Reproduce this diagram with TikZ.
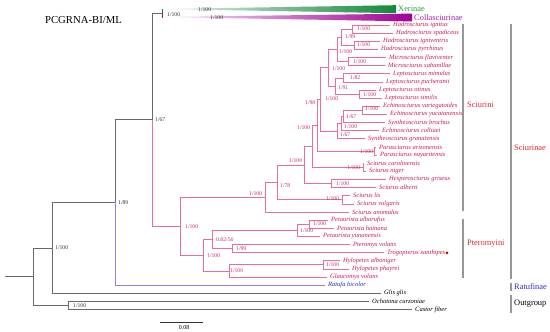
\documentclass[tikz,border=0pt]{standalone}
\usepackage{fontspec}
\setmainfont{Liberation Serif}
\definecolor{pkline}{RGB}{230,112,150}
\definecolor{tipred}{RGB}{205,25,80}
\definecolor{nlred}{RGB}{200,45,85}
\definecolor{cladered}{RGB}{225,35,45}
\definecolor{ratline}{RGB}{155,125,225}
\definecolor{ratblue}{RGB}{40,40,205}
\definecolor{xgreen}{RGB}{20,135,60}
\definecolor{xlab}{RGB}{30,165,60}
\definecolor{cpurple}{RGB}{160,0,150}
\definecolor{clab}{RGB}{170,30,170}
\definecolor{bbgray}{RGB}{105,105,105}
\definecolor{bargray}{RGB}{150,150,150}
\newcommand\mytip[5][]{\coordinate (#2) at (#3,{25+8.13*#4}); \node[tiplab,#1] (#2l) at ([xshift=3pt]#2) {#5};}
\begin{document}
\begin{tikzpicture}[x=1pt,y=-1pt,
  tiplab/.style={anchor=west,inner sep=0pt,font=\fontsize{6.5}{7}\selectfont\itshape,text=tipred},
  nl/.style={anchor=west,inner sep=0pt,font=\fontsize{5.7}{6}\selectfont,text=nlred},
  nlg/.style={anchor=west,inner sep=0pt,font=\fontsize{5.7}{6}\selectfont,text=black!80},
  cladelab/.style={anchor=west,inner sep=0pt,font=\fontsize{8.4}{9}\selectfont},
  pk/.style={draw=pkline,line width=0.7pt},
  gb/.style={draw=bbgray,line width=0.7pt},
  bar/.style={draw=bargray,line width=1.2pt}]
\useasboundingbox (0,0) rectangle (550,332);

% title
\node[inner sep=0pt,font=\fontsize{10.7}{12}\selectfont] (title) at (83.5,20) {PCGRNA-BI/ML};

% tips
\mytip{t0}{390}{0}{Hadrosciurus ignitus}
\mytip{t1}{393}{1}{Hadrosciurus spadiceus}
\mytip{t2}{380}{2}{Hadrosciurus igniventris}
\mytip{t3}{378}{3}{Hadrosciurus pyrrhinus}
\mytip{t4}{386}{4}{Microsciurus flaviventer}
\mytip{t5}{385}{5}{Microsciurus sabanillae}
\mytip{t6}{390}{6}{Leptosciurus mimulus}
\mytip{t7}{383}{7}{Leptosciurus pucheranii}
\mytip{t8}{376}{8}{Leptosciurus otinus}
\mytip{t9}{382}{9}{Leptosciurus similis}
\mytip{t10}{380}{10}{Echinosciurus variegatoides}
\mytip{t11}{387}{11}{Echinosciurus yucatanensis}
\mytip{t12}{385}{12}{Syntheosciurus brochus}
\mytip{t13}{379}{13}{Echinosciurus colliaei}
\mytip{t14}{365}{14}{Syntheosciurus granatensis}
\mytip{t15}{376}{15}{Parasciurus arizonensis}
\mytip{t16}{377}{16}{Parasciurus nayaritensis}
\mytip{t17}{364}{17}{Sciurus carolinensis}
\mytip{t18}{366}{18}{Sciurus niger}
\mytip{t19}{386}{19}{Hesperosciurus griseus}
\mytip{t20}{376}{20}{Sciurus alberti}
\mytip{t21}{350}{21}{Sciurus lis}
\mytip{t22}{354}{22}{Sciurus vulgaris}
\mytip{t23}{349}{23}{Sciurus anomalus}
\mytip{t24}{328}{24}{Petaurista alborufus}
\mytip{t25}{334}{25}{Petaurista hainana}
\mytip{t26}{320}{26}{Petaurista yunanensis}
\mytip{t27}{350}{27}{Pteromys volans}
\mytip{t28}{384}{28}{Trogopterus xanthipes}
\mytip{t29}{340}{29}{Hylopetes alboniger}
\mytip{t30}{349}{30}{Hylopetes phayrei}
\mytip{t31}{327}{31}{Glaucomys volans}
\mytip[text=ratblue]{t32}{325}{32}{Ratufa bicolor}
\mytip[text=black]{t33}{381}{33}{Glis glis}
\mytip[text=black]{t34}{369}{34}{Ochotona curzoniae}
\mytip[text=black]{t35}{412}{35}{Castor fiber}

% internal nodes
\coordinate (n1) at (352,29.07);
\coordinate (n2) at (354,45.33);
\coordinate (n3) at (341,37.2);
\coordinate (n4) at (348,61.59);
\coordinate (n5) at (337,49.39);
\coordinate (n6) at (343,77.85);
\coordinate (n7) at (359,94.1);
\coordinate (n8) at (335,85.98);
\coordinate (n9) at (328,67.69);
\coordinate (n10) at (362,110.37);
\coordinate (n11) at (343,116.46);
\coordinate (n12) at (341,123.58);
\coordinate (n13) at (337,131.2);
\coordinate (v1) at (320,99.45);
\coordinate (n14) at (374,151.0);
\coordinate (v2) at (317,125.2);
\coordinate (n15) at (363,167.28);
\coordinate (v3) at (312,146.24);
\coordinate (n16) at (331,183.54);
\coordinate (v4) at (304,164.89);
\coordinate (n17) at (342,199.8);
\coordinate (v5) at (277,182.35);
\coordinate (v6) at (265,197.17);
\coordinate (n18) at (309,224.19);
\coordinate (n19) at (297,230.28);
\coordinate (n20) at (232,248.58);
\coordinate (n21) at (212,239.43);
\coordinate (n22) at (323,264.84);
\coordinate (n23) at (229,270.93);
\coordinate (n24) at (203,255.18);
\coordinate (n25) at (180,226.18);
\coordinate (n26) at (162,13);
\coordinate (n27) at (152,119.6);
\coordinate (n28) at (115,202.4);
\coordinate (n29) at (52,247.85);
\coordinate (n30) at (68,305.49);
\coordinate (n31) at (33,276.67);
\coordinate (rt) at (5,276.67);
\coordinate (xa) at (163,9);
\coordinate (ca) at (163,17);

% wedges
\shade[left color=xgreen!8,right color=xgreen] (xa) -- (396,5.2) -- (396,13.2) -- cycle;
\shade[left color=cpurple!8,right color=cpurple] (ca) -- (412,13.6) -- (412,21.4) -- cycle;
\node[cladelab,text=xlab] (xer) at (398,9) {Xerinae};
\node[cladelab,text=clab] (col) at (414,17.5) {Collasciurinae};

% Sciurinae branches
\draw[pk] (n1)|-(t0) (n1)|-(t1) (n2)|-(t2) (n2)|-(t3) (n3)|-(n1) (n3)|-(n2)
  (n4)|-(t4) (n4)|-(t5) (n5)|-(n3) (n5)|-(n4)
  (n6)|-(t6) (n6)|-(t7) (n7)|-(t8) (n7)|-(t9) (n8)|-(n6) (n8)|-(n7)
  (n9)|-(n5) (n9)|-(n8)
  (n10)|-(t10) (n10)|-(t11) (n11)|-(n10) (n11)|-(t12) (n12)|-(n11) (n12)|-(t13)
  (n13)|-(n12) (n13)|-(t14)
  (v1)|-(n9) (v1)|-(n13)
  (n14)|-(t15) (n14)|-(t16) (v2)|-(v1) (v2)|-(n14)
  (n15)|-(t17) (n15)|-(t18) (v3)|-(v2) (v3)|-(n15)
  (n16)|-(t19) (n16)|-(t20) (v4)|-(v3) (v4)|-(n16)
  (n17)|-(t21) (n17)|-(t22) (v5)|-(v4) (v5)|-(n17)
  (v6)|-(v5) (v6)|-(t23)
  (n18)|-(t24) (n18)|-(t25) (n19)|-(n18) (n19)|-(t26)
  (n20)|-(t27) (n20)|-(t28) (n21)|-(n19) (n21)|-(n20)
  (n22)|-(t29) (n22)|-(t30) (n23)|-(n22) (n23)|-(t31)
  (n24)|-(n21) (n24)|-(n23)
  (n25)|-(v6) (n25)|-(n24)
  (n27)|-(n25);

% other branches
\draw[gb] (n27)|-(n26) (n28)|-(n27) (n29)|-(n28) (n29)|-(t33)
  (n30)|-(t34) (n30)|-(t35) (n31)|-(n29) (n31)|-(n30) (rt)--(n31);
\draw[draw=xgreen,line width=0.7pt] (n26)|-(xa);
\draw[draw=cpurple,line width=0.7pt] (n26)|-(ca);
\draw[draw=ratline,line width=0.7pt] (n28)|-(t32);

% red dot
\fill[red!75!black] (447,252.8) circle (1.5);

% node labels (outer)
\node[nlg] (l1) at (167,14.5) {1/100};
\node[nlg] (l2) at (198,9.3) {1/100};
\node[nlg] (l3) at (210,17.3) {1/100};
\node[nlg] (l4) at (155,120) {1/67};
\node[nlg] (l5) at (118,203) {1/89};
\node[nlg] (l6) at (55,248) {1/100};
\node[nlg] (l7) at (73,306) {1/100};
% node labels (Sciurinae)
\node[nl] at (185,227) {1/100};
\node[nl] at (249,194) {1/100};
\node[nl] at (280,186) {1/78};
\node[nl] at (289,161) {1/100};
\node[nl] at (297,128) {1/100};
\node[nl] at (305,103) {1/98};
\node[nl] at (325,99) {1/100};
\node[nl] at (332,69) {1/100};
\node[nl] at (339,52) {1/100};
\node[nl] at (345,37) {1/99};
\node[nl] at (357,29) {1/100};
\node[nl] at (357,45) {1/100};
\node[nl] at (353,62) {1/100};
\node[nl] at (350,78) {1/82};
\node[nl] at (338,88) {1/91};
\node[nl] at (363,95) {1/100};
\node[nl] at (365,109) {1/100};
\node[nl] at (346,116.5) {1/67};
\node[nl] at (344,127) {1/100};
\node[nl] at (340,135) {1/67};
\node[nl] at (360,152) {1/100};
\node[nl] at (347,168) {1/100};
\node[nl] at (336,183.5) {1/100};
\node[nl] at (326,199) {1/100};
\node[nl] at (313,224) {1/100};
\node[nl] at (300,231) {1/100};
\node[nl] at (216,240) {0.82/56};
\node[nl] at (236,249) {1/99};
\node[nl] at (207,256) {1/100};
\node[nl] at (230,271) {1/100};
\node[nl] at (326,265) {1/100};

% clade bars
\coordinate (b1t) at (463,24); \coordinate (b1b) at (463,211);
\coordinate (b2t) at (463,219); \coordinate (b2b) at (463,278);
\coordinate (b3t) at (511,24); \coordinate (b3b) at (511,279);
\coordinate (b4t) at (511,283); \coordinate (b4b) at (511,291);
\coordinate (b5t) at (511,295); \coordinate (b5b) at (511,313);
\draw[bar] (b1t)--(b1b) (b2t)--(b2b) (b3t)--(b3b) (b4t)--(b4b) (b5t)--(b5b);
\node[cladelab,text=cladered] (c1) at (467,105) {Sciurini};
\node[cladelab,text=cladered] (c2) at (467,244) {Pteromyini};
\node[cladelab,text=cladered] (c3) at (514,148) {Sciurinae};
\node[cladelab,text=ratblue] (c4) at (514,287) {Ratufinae};
\node[cladelab,text=black] (c5) at (514,304) {Outgroup};

% scale bar
\coordinate (s1) at (160,322); \coordinate (s2) at (203,322);
\draw[draw=black!80,line width=0.7pt] (s1)--(s2);
\node[inner sep=0pt,font=\fontsize{6}{7}\selectfont] (sl) at (184,327.5) {0.08};
\end{tikzpicture}
\end{document}
